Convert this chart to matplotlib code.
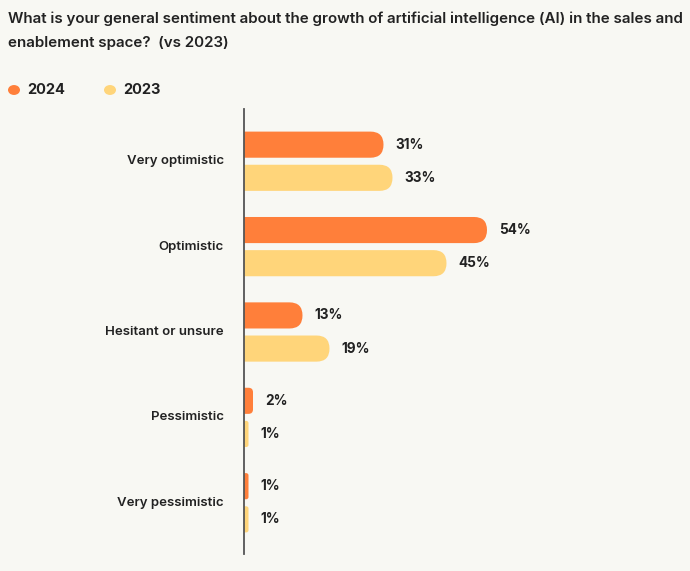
import matplotlib
matplotlib.use("Agg")
import matplotlib.pyplot as plt
from matplotlib.patches import FancyBboxPatch, Circle

categories = ["Very optimistic", "Optimistic", "Hesitant or unsure",
              "Pessimistic", "Very pessimistic"]
years = ["2024", "2023"]
values_2024 = [31, 54, 13, 2, 1]
values_2023 = [33, 45, 19, 1, 1]

colors = {"2024": "#FF7F3A", "2023": "#FFD57A"}
bg = "#F8F8F3"

plt.rcParams["font.family"] = ["Inter", "DejaVu Sans"]

W, H = 690, 571
fig = plt.figure(figsize=(W / 100, H / 100), dpi=100, facecolor=bg)

# axes placed in pixels: left edge at the spine
ax_l, ax_r, ax_t, ax_b = 244, 690, 109, 554
ax = fig.add_axes([ax_l / W, 1 - ax_b / H, (ax_r - ax_l) / W, (ax_b - ax_t) / H])
ax.set_facecolor(bg)

px_x = 4.5     # pixels per percent
px_y = 85.0    # pixels per group
ax.set_xlim(0, (ax_r - ax_l) / px_x)
ax.set_ylim(4 + 51 / px_y, -52 / px_y)

bar_h = 26 / px_y
offset = 16.5 / px_y


def rounded_bar(y, v, color):
    w_px = v * px_x
    r_px = min(13.0, w_px / 2)
    r = r_px / px_x
    box = FancyBboxPatch((-r, y - bar_h / 2), v + r, bar_h,
                         boxstyle="round,pad=0,rounding_size=%f" % r,
                         mutation_aspect=px_x / px_y,
                         fc=color, ec="none", zorder=2)
    ax.add_patch(box)


for i, cat in enumerate(categories):
    for year, vals, sign in [("2024", values_2024, -1), ("2023", values_2023, 1)]:
        y = i + sign * offset
        v = vals[i]
        rounded_bar(y, v, colors[year])
        ax.text(v + 12 / px_x, y, "%d%%" % v, ha="left", va="center",
                fontsize=9.8, fontweight="bold", color="#222222")
    ax.text(-20 / px_x, i, cat, ha="right", va="center", fontsize=9.5,
            fontweight="semibold", color="#222222", clip_on=False)

for s in ["top", "right", "bottom"]:
    ax.spines[s].set_visible(False)
ax.spines["left"].set_color("#555555")
ax.spines["left"].set_linewidth(1.3)
ax.set_xticks([])
ax.set_yticks([])

fig.text(8 / W, 1 - 19 / H,
         "What is your general sentiment about the growth of artificial intelligence (AI) in the sales and",
         ha="left", va="center", fontsize=10.9, fontweight="semibold", color="#222222")
fig.text(8 / W, 1 - 43 / H, "enablement space?  (vs 2023)",
         ha="left", va="center", fontsize=10.9, fontweight="semibold", color="#222222")

# legend
for year, cx in zip(years, [14, 110]):
    fig.patches.append(Circle((cx / W, 1 - 90 / H), 6 / W, transform=fig.transFigure,
                              fc=colors[year], ec="none"))
    fig.text((cx + 13) / W, 1 - 90 / H, year, ha="left", va="center",
             fontsize=10.5, fontweight="bold", color="#222222")

fig.savefig("out.png", dpi=100, facecolor=bg)
